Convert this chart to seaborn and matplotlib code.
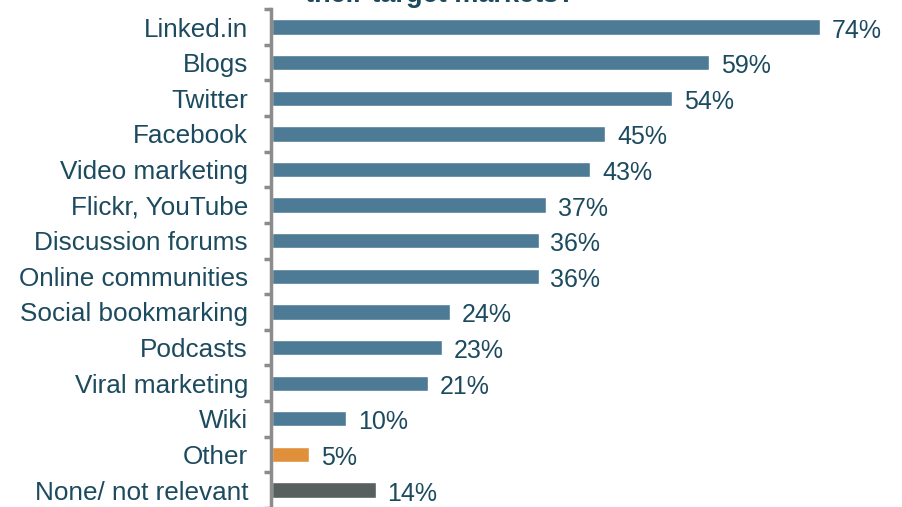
import matplotlib
matplotlib.use("Agg")
import matplotlib.pyplot as plt
import seaborn as sns
import pandas as pd
import numpy as np

categories = ["Linked.in", "Blogs", "Twitter", "Facebook", "Video marketing",
              "Flickr, YouTube", "Discussion forums", "Online communities",
              "Social bookmarking", "Podcasts", "Viral marketing", "Wiki",
              "Other", "None/ not relevant"]
values = [74, 59, 54, 45, 43, 37, 36, 36, 24, 23, 21, 10, 5, 14]
bar_colors = ["#4d7b95"] * 12 + ["#e0903a", "#585f5f"]
title = "their target markets?"

sns.set_theme(style="white")
plt.rcParams['font.family'] = ['Liberation Sans', 'DejaVu Sans']

df = pd.DataFrame({"cat": categories, "val": values})

fig = plt.figure(figsize=(9.03, 5.07), dpi=100)
ax = fig.add_axes([271 / 903, -0.0016, 629 / 903, 1 - 9.2 / 507 + 0.0016])

sns.barplot(data=df, y="cat", x="val", hue="cat", palette=bar_colors,
            orient="h", width=0.43, legend=False, ax=ax, saturation=1)

ax.set_xlim(-0.15, 84.85)
ax.set_ylim(len(categories) - 0.5, -0.5)
ax.set_xlabel("")
ax.set_ylabel("")
ax.set_xticks([])
for s in ["top", "right", "bottom"]:
    ax.spines[s].set_visible(False)
ax.spines["left"].set_color("#8c8c8c")
ax.spines["left"].set_linewidth(2.5)

ax.set_yticks(range(len(categories)))
ax.set_yticklabels(categories, fontsize=18.8, color="#1c4a5e")
ax.tick_params(axis="y", which="major", left=False, length=0, pad=16.5)
ax.set_yticks(np.arange(-0.5, len(categories), 1), minor=True)
ax.tick_params(axis="y", which="minor", left=True, direction="out", length=5,
               width=2.5, color="#8c8c8c")

for i, v in enumerate(values):
    ax.text(v + 1.6, i + 0.1, f"{v}%", va="center", ha="left",
            fontsize=18, color="#1c4a5e")

fig.text(0.487, 1 - 2 / 507, title, ha="center", va="baseline",
         fontsize=19.5, fontweight="bold", color="#1c4a5e")

fig.savefig("out.png", dpi=100)
